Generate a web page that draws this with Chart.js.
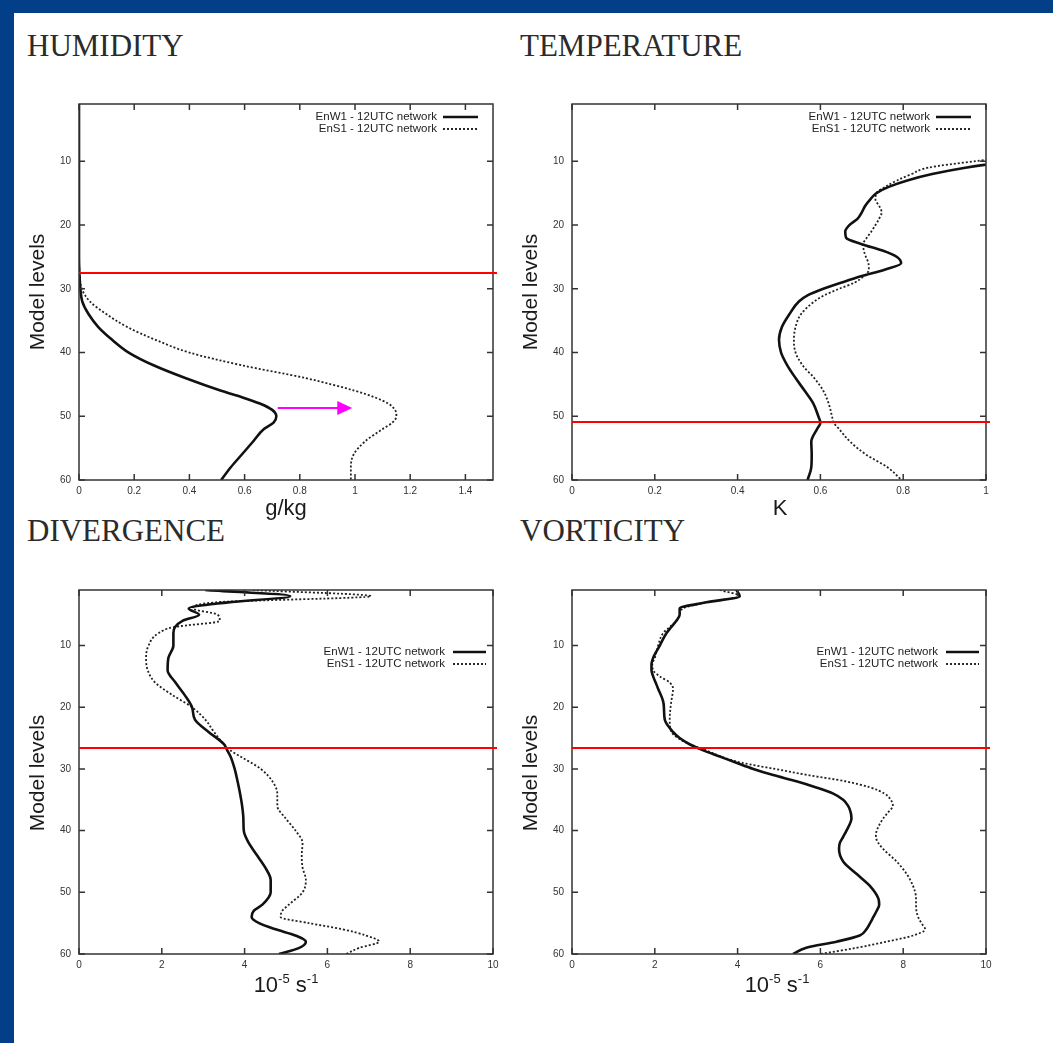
<!DOCTYPE html>
<html>
<head>
<meta charset="utf-8">
<script src="https://cdn.jsdelivr.net/npm/chart.js@4.4.1/dist/chart.umd.min.js"></script>
<style>
  html, body { margin: 0; padding: 0; background: #fff; }
  body { width: 1053px; height: 1043px; position: relative; overflow: hidden;
         font-family: "Liberation Sans", Arial, sans-serif; }
  .bl { position: absolute; left: 0; top: 0; width: 14px; height: 1043px; background: #033f88; }
  .bt { position: absolute; left: 0; top: 0; width: 1053px; height: 13px; background: #033f88; }
  .ttl { position: absolute; font-family: "Liberation Serif", "Times New Roman", serif;
         font-size: 31px; line-height: 31px; color: #2b2b2b; white-space: nowrap; }
  .yt { position: absolute; font-size: 21px; line-height: 21px; color: #1b1b1b; white-space: nowrap;
        transform: translate(-50%, -50%) rotate(-90deg); }
  .xt { position: absolute; font-size: 22px; line-height: 22px; color: #1b1b1b; white-space: nowrap;
        transform: translateX(-50%); }
  .xt sup { font-size: 13px; vertical-align: 9px; line-height: 0; }
  .box { position: absolute; }
</style>
</head>
<body>
<div class="bl"></div><div class="bt"></div>

<div class="ttl" style="left:27px;top:30px">HUMIDITY</div>
<div class="ttl" style="left:520px;top:30px">TEMPERATURE</div>
<div class="ttl" style="left:27px;top:515px">DIVERGENCE</div>
<div class="ttl" style="left:520px;top:515px">VORTICITY</div>

<div class="box" style="left:40px;top:90px;width:470px;height:420px"><canvas id="humChart"></canvas></div>
<div class="box" style="left:533px;top:90px;width:470px;height:420px"><canvas id="tempChart"></canvas></div>
<div class="box" style="left:40px;top:576px;width:470px;height:408px"><canvas id="divChart"></canvas></div>
<div class="box" style="left:533px;top:576px;width:470px;height:408px"><canvas id="vortChart"></canvas></div>

<div class="yt" style="left:36px;top:292px">Model levels</div>
<div class="yt" style="left:529px;top:292px">Model levels</div>
<div class="yt" style="left:36px;top:773px">Model levels</div>
<div class="yt" style="left:529px;top:773px">Model levels</div>

<div class="xt" style="left:286px;top:497px">g/kg</div>
<div class="xt" style="left:780px;top:497px">K</div>
<div class="xt" style="left:286px;top:974px">10<sup>-5</sup> s<sup>-1</sup></div>
<div class="xt" style="left:777px;top:974px">10<sup>-5</sup> s<sup>-1</sup></div>

<script>
/* profiles EnW1 (solid) vs EnS1 (dotted), 12UTC network */
const LABEL_W = 'EnW1 - 12UTC network', LABEL_S = 'EnS1 - 12UTC network';
const LEVEL_TICKS = [10, 20, 30, 40, 50, 60];

// humidity, g/kg
const HUM_LEVELS = [1, 10, 20, 25, 28, 30, 32, 34, 36, 38, 40, 42, 44, 46, 47, 48, 49, 50, 51, 52, 54, 56, 58, 60];
const HUM_W = [0, 0, 0, 0, 0.002, 0.005, 0.012, 0.035, 0.07, 0.12, 0.18, 0.27, 0.385, 0.515, 0.59, 0.655, 0.70, 0.715, 0.705, 0.67, 0.63, 0.59, 0.55, 0.515];
const HUM_S = [0, 0, 0, 0, 0.003, 0.01, 0.04, 0.10, 0.175, 0.277, 0.40, 0.59, 0.82, 1.0, 1.07, 1.12, 1.145, 1.15, 1.135, 1.10, 1.035, 0.995, 0.985, 0.985];
const HUM_TICKS = [0, 0.2, 0.4, 0.6, 0.8, 1, 1.2, 1.4];
const HUM_REF = 27.5;
const HUM_ARROW = { from: 0.72, to: 0.99, level: 48.7 };

// temperature, K
const TEMP_LEVELS = [9, 10, 11, 12, 13, 14, 15, 16, 17, 18, 19, 20, 21, 22, 23, 24, 25, 26, 27, 28, 29, 30, 31, 32, 34, 36, 38, 40, 42, 44, 46, 48, 50, 51, 52, 54, 56, 58, 60];
const TEMP_W = [1.2, 1.06, 0.95, 0.87, 0.81, 0.765, 0.735, 0.72, 0.708, 0.70, 0.69, 0.67, 0.66, 0.662, 0.70, 0.75, 0.785, 0.795, 0.755, 0.70, 0.652, 0.607, 0.57, 0.548, 0.525, 0.507, 0.50, 0.505, 0.52, 0.54, 0.562, 0.583, 0.595, 0.60, 0.592, 0.578, 0.579, 0.578, 0.569];
const TEMP_S = [1.1, 0.97, 0.86, 0.82, 0.785, 0.757, 0.735, 0.733, 0.742, 0.748, 0.742, 0.733, 0.723, 0.712, 0.703, 0.705, 0.71, 0.716, 0.717, 0.705, 0.683, 0.645, 0.61, 0.585, 0.553, 0.54, 0.536, 0.54, 0.557, 0.585, 0.607, 0.62, 0.628, 0.632, 0.645, 0.672, 0.71, 0.762, 0.796];
const TEMP_TICKS = [0, 0.2, 0.4, 0.6, 0.8, 1];
const TEMP_REF = 50.9;

// divergence, 1e-5 s-1
const DIV_LEVELS = [1, 2, 3, 4, 5, 6, 7, 8, 10, 12, 14, 16, 18, 20, 22, 24, 26, 27, 28, 30, 32, 34, 36, 38, 40, 42, 44, 46, 48, 50, 52, 53, 54, 55, 56, 57, 58, 59, 60];
const DIV_W = [3.05, 5.1, 3.6, 2.65, 2.9, 2.5, 2.32, 2.28, 2.28, 2.16, 2.14, 2.33, 2.55, 2.73, 2.8, 3.13, 3.5, 3.58, 3.66, 3.76, 3.83, 3.89, 3.94, 3.97, 3.98, 4.1, 4.3, 4.5, 4.63, 4.63, 4.43, 4.22, 4.17, 4.35, 4.75, 5.23, 5.48, 5.32, 4.83];
const DIV_S = [4.2, 7.05, 3.3, 2.75, 3.35, 3.4, 2.3, 1.92, 1.68, 1.62, 1.66, 1.84, 2.25, 2.73, 3.05, 3.26, 3.5, 3.66, 3.9, 4.39, 4.67, 4.79, 4.79, 4.99, 5.23, 5.4, 5.38, 5.4, 5.48, 5.4, 5.07, 4.91, 4.87, 5.56, 6.37, 6.93, 7.25, 6.77, 6.45];
const DIV_TICKS = [0, 2, 4, 6, 8, 10];
const DIV_REF = 26.6;

// vorticity, 1e-5 s-1
const VORT_LEVELS = [1, 2, 3, 4, 5, 6, 7, 8, 10, 12, 13, 14, 15, 16, 17, 19, 20, 22, 24, 25, 26, 27, 28, 29, 30, 31, 32, 33, 34, 35, 36, 37, 38, 40, 41, 42, 43, 45, 47, 49, 51, 52, 53, 54, 55, 56, 57, 58, 59, 60];
const VORT_W = [3.97, 4.05, 3.25, 2.6, 2.6, 2.52, 2.4, 2.28, 2.12, 1.96, 1.92, 1.92, 1.96, 2.02, 2.08, 2.2, 2.22, 2.24, 2.44, 2.6, 2.84, 3.17, 3.57, 3.97, 4.38, 4.86, 5.42, 5.9, 6.31, 6.55, 6.67, 6.73, 6.75, 6.63, 6.55, 6.47, 6.45, 6.55, 6.87, 7.2, 7.4, 7.42, 7.36, 7.28, 7.2, 7.11, 6.95, 6.39, 5.66, 5.34];
const VORT_S = [3.57, 4.05, 3.25, 2.68, 2.6, 2.52, 2.36, 2.2, 2.08, 2.0, 1.94, 1.96, 2.12, 2.36, 2.44, 2.4, 2.38, 2.36, 2.4, 2.56, 2.84, 3.25, 3.6, 4.1, 4.9, 5.7, 6.6, 7.2, 7.55, 7.7, 7.75, 7.64, 7.52, 7.36, 7.34, 7.4, 7.52, 7.84, 8.08, 8.24, 8.31, 8.31, 8.32, 8.36, 8.44, 8.53, 8.24, 7.6, 6.87, 6.0];
const VORT_TICKS = [0, 2, 4, 6, 8, 10];
const VORT_REF = 26.6;

const INK = '#111', FRAME = '#333', RED = '#ff0000', MAGENTA = '#ff00ff';
const TICK = 6;

Chart.defaults.font.family = '"Liberation Sans", Arial, sans-serif';
Chart.defaults.color = '#333';

// gnuplot-like frame, inward mirrored ticks, key, red reference level and arrow
const gnuFrame = {
  id: 'gnuFrame',
  afterDatasetsDraw(chart, args, o) {
    const { ctx, chartArea: a, scales: { x, y } } = chart;
    ctx.save();
    ctx.strokeStyle = FRAME; ctx.lineWidth = 1.5;
    ctx.strokeRect(a.left, a.top, a.right - a.left, a.bottom - a.top);
    ctx.beginPath();
    x.ticks.forEach(t => {
      const px = x.getPixelForValue(t.value);
      ctx.moveTo(px, a.bottom); ctx.lineTo(px, a.bottom - TICK);
      ctx.moveTo(px, a.top); ctx.lineTo(px, a.top + TICK);
    });
    y.ticks.forEach(t => {
      const py = y.getPixelForValue(t.value);
      ctx.moveTo(a.left, py); ctx.lineTo(a.left + TICK, py);
      ctx.moveTo(a.right, py); ctx.lineTo(a.right - TICK, py);
    });
    ctx.stroke();

    // key
    const k = o.key;
    ctx.font = '11.5px "Liberation Sans", Arial, sans-serif';
    ctx.fillStyle = '#222'; ctx.textAlign = 'right'; ctx.textBaseline = 'middle';
    chart.data.datasets.forEach((ds, i) => {
      const ty = a.top + k.top + i * 12;
      ctx.fillText(ds.label, a.right - k.textRight, ty);
      ctx.beginPath();
      ctx.strokeStyle = INK; ctx.lineWidth = ds.borderWidth;
      ctx.setLineDash(ds.borderDash || []);
      ctx.moveTo(a.right - k.sampleLeft, ty); ctx.lineTo(a.right - k.sampleRight, ty);
      ctx.stroke();
    });
    ctx.setLineDash([]);

    // red reference level
    const ry = y.getPixelForValue(o.refLevel);
    ctx.strokeStyle = RED; ctx.lineWidth = 2;
    ctx.beginPath(); ctx.moveTo(a.left, ry); ctx.lineTo(a.right + 4, ry); ctx.stroke();

    // magenta arrow
    if (o.arrow) {
      const x0 = x.getPixelForValue(o.arrow.from), x1 = x.getPixelForValue(o.arrow.to);
      const ay = y.getPixelForValue(o.arrow.level);
      ctx.strokeStyle = MAGENTA; ctx.fillStyle = MAGENTA; ctx.lineWidth = 2;
      ctx.beginPath(); ctx.moveTo(x0, ay); ctx.lineTo(x1 - 14, ay); ctx.stroke();
      ctx.beginPath(); ctx.moveTo(x1, ay); ctx.lineTo(x1 - 15, ay - 7); ctx.lineTo(x1 - 15, ay + 7);
      ctx.closePath(); ctx.fill();
    }
    ctx.restore();
  }
};

function pairs(levels, vals) {
  return levels.map((l, i) => ({ x: vals[i], y: l }));
}

function panel(id, levels, w, s, xMax, xTicks, refLevel, key, arrow) {
  new Chart(id, {
    type: 'line',
    data: {
      datasets: [
        { label: LABEL_W, data: pairs(levels, w), borderColor: INK, borderWidth: 2.6 },
        { label: LABEL_S, data: pairs(levels, s), borderColor: '#222', borderWidth: 1.8, borderDash: [2, 2] }
      ]
    },
    options: {
      indexAxis: 'y',
      animation: false, responsive: true, maintainAspectRatio: false,
      events: [],
      elements: { point: { radius: 0 }, line: { cubicInterpolationMode: 'monotone' } },
      layout: { autoPadding: false, padding: { top: 13, right: 17, left: 0, bottom: 0 } },
      plugins: {
        legend: { display: false }, tooltip: { enabled: false },
        gnuFrame: { refLevel, key, arrow }
      },
      scales: {
        x: {
          type: 'linear', min: 0, max: xMax,
          grid: { display: false, drawTicks: false }, border: { display: false },
          afterBuildTicks: sc => { sc.ticks = xTicks.map(v => ({ value: v })); },
          afterFit: sc => { sc.height = 30; },
          ticks: { padding: 5, maxRotation: 0, font: { size: 10 }, color: '#333', callback: v => String(v) }
        },
        y: {
          type: 'linear', min: 1, max: 60, reverse: true,
          grid: { display: false, drawTicks: false }, border: { display: false },
          afterBuildTicks: sc => { sc.ticks = LEVEL_TICKS.map(v => ({ value: v })); },
          afterFit: sc => { sc.width = 39; },
          ticks: { padding: 8, font: { size: 10 }, color: '#333', callback: v => String(v) }
        }
      }
    },
    plugins: [gnuFrame]
  });
}

const KEY_TOP = { top: 13, textRight: 56, sampleLeft: 50, sampleRight: 15 };
const KEY_MID = { top: 62, textRight: 48, sampleLeft: 40, sampleRight: 7 };

panel('humChart', HUM_LEVELS, HUM_W, HUM_S, 1.5, HUM_TICKS, HUM_REF, KEY_TOP, HUM_ARROW);
panel('tempChart', TEMP_LEVELS, TEMP_W, TEMP_S, 1, TEMP_TICKS, TEMP_REF, KEY_TOP, null);
panel('divChart', DIV_LEVELS, DIV_W, DIV_S, 10, DIV_TICKS, DIV_REF, KEY_MID, null);
panel('vortChart', VORT_LEVELS, VORT_W, VORT_S, 10, VORT_TICKS, VORT_REF, KEY_MID, null);
</script>
</body>
</html>
